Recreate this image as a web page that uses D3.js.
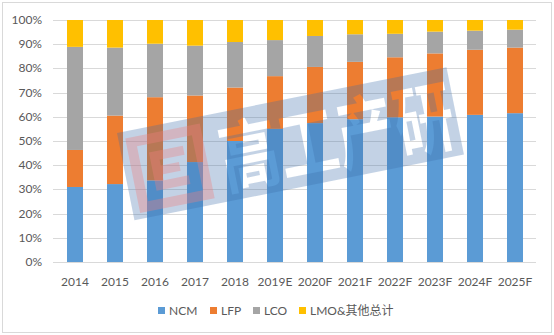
<!DOCTYPE html>
<html>
<head>
<meta charset="utf-8">
<script src="https://cdn.jsdelivr.net/npm/d3@7"></script>
<style>
  body { margin: 0; background: #fff; }
  text { font-family: Lato, "Noto Sans CJK SC", sans-serif; fill: #595959; }
</style>
</head>
<body>
<script>
// data (share of each chemistry, %)
const years = ["2014","2015","2016","2017","2018","2019E","2020F","2021F","2022F","2023F","2024F","2025F"];
const ncm = [31.0, 32.2, 33.7, 41.3, 50.0, 55.0, 57.4, 59.0, 59.8, 60.1, 60.8, 61.5];
const lfp = [15.3, 28.3, 34.4, 27.5, 22.1, 21.8, 23.2, 23.7, 24.8, 26.1, 26.9, 27.1];
const lco = [42.6, 28.1, 22.1, 20.6, 18.8, 14.9, 12.8, 11.4, 9.7, 9.0, 7.9, 7.4];
const lmo = [11.1, 11.4, 9.8, 10.6, 9.1, 8.3, 6.6, 5.9, 5.7, 4.8, 4.4, 4.0];
const seriesNames = ["NCM", "LFP", "LCO", "LMO&其他总计"];
const yTicks = [0, 10, 20, 30, 40, 50, 60, 70, 80, 90, 100];

const colors = ["#5B9BD5", "#ED7D31", "#A5A5A5", "#FFC000"];
let width = 554, height = 335;

let svg = d3.select("body").append("svg")
  .attr("width", width)
  .attr("height", height);

// chart border
svg.append("rect").attr("x", 2.5).attr("y", 2.5)
  .attr("width", 549).attr("height", 330)
  .attr("fill", "none").attr("stroke", "#D9D9D9");

let rows = years.map((y, i) => ({year: y, NCM: ncm[i], LFP: lfp[i], LCO: lco[i], "LMO&其他总计": lmo[i]}));
let stacked = d3.stack().keys(seriesNames)(rows);

let x = d3.scaleBand().domain(years).range([55, 535]).paddingInner(0.6).paddingOuter(0.3);
let y = d3.scaleLinear().domain([0, 100]).range([262, 20]);

// gridlines
svg.append("g").selectAll("line").data(yTicks).enter()
  .append("line")
  .attr("x1", 53).attr("x2", 536)
  .attr("y1", d => Math.round(y(d)) + 0.5)
  .attr("y2", d => Math.round(y(d)) + 0.5)
  .attr("stroke", "#D9D9D9").attr("stroke-width", 1);

// y axis labels
svg.append("g").selectAll("text").data(yTicks).enter()
  .append("text")
  .attr("x", 42).attr("y", d => y(d) + 4)
  .attr("text-anchor", "end")
  .attr("font-size", 12)
  .text(d => d + "%");

// bars
let layers = svg.append("g").selectAll("g").data(stacked).enter()
  .append("g").attr("fill", (d, i) => colors[i]);
layers.selectAll("rect").data(d => d).enter()
  .append("rect")
  .attr("x", d => x(d.data.year))
  .attr("width", x.bandwidth())
  .attr("y", d => y(d[1]))
  .attr("height", d => y(d[0]) - y(d[1]));

// x axis labels
svg.append("g").selectAll("text").data(years).enter()
  .append("text")
  .attr("x", d => x(d) + x.bandwidth() / 2)
  .attr("y", 286)
  .attr("text-anchor", "middle")
  .attr("font-size", 12)
  .text(d => d);

// legend
let legendX = [158, 210, 253, 299];
let legend = svg.append("g").selectAll("g").data(seriesNames).enter()
  .append("g")
  .attr("transform", (d, i) => "translate(" + legendX[i] + ",307)");
legend.append("rect").attr("width", 7).attr("height", 7)
  .attr("fill", (d, i) => colors[i]);
legend.append("text").attr("x", 11).attr("y", 8)
  .attr("font-size", 12)
  .text(d => d);

// watermark (高工产研 logo band)
let defs = svg.append("defs");
let mask = defs.append("mask").attr("id", "wm");
mask.append("rect").attr("x", -10).attr("y", -10).attr("width", 360).attr("height", 110).attr("fill", "#fff");
mask.append("text").attr("transform", "translate(96,76) scale(0.76,1)")
  .style("fill", "#000")
  .attr("font-family", "Noto Sans CJK SC").attr("font-size", 78).attr("font-weight", 700)
  .text("高工产研");

let wm = svg.append("g").attr("transform", "translate(117,133) rotate(-11.3)");
wm.append("rect").attr("width", 336).attr("height", 89)
  .attr("fill", "rgb(60,110,170)").attr("opacity", 0.3)
  .attr("mask", "url(#wm)");
let logo = wm.append("g").attr("opacity", 0.35).attr("fill", "none").attr("stroke", "#F08080");
logo.append("rect").attr("x", 12).attr("y", 12).attr("width", 66).attr("height", 66).attr("stroke-width", 10);
logo.append("path").attr("d", "M62,30 H32 V60 H62 M32,45 H55").attr("stroke-width", 9);
</script>
</body>
</html>
